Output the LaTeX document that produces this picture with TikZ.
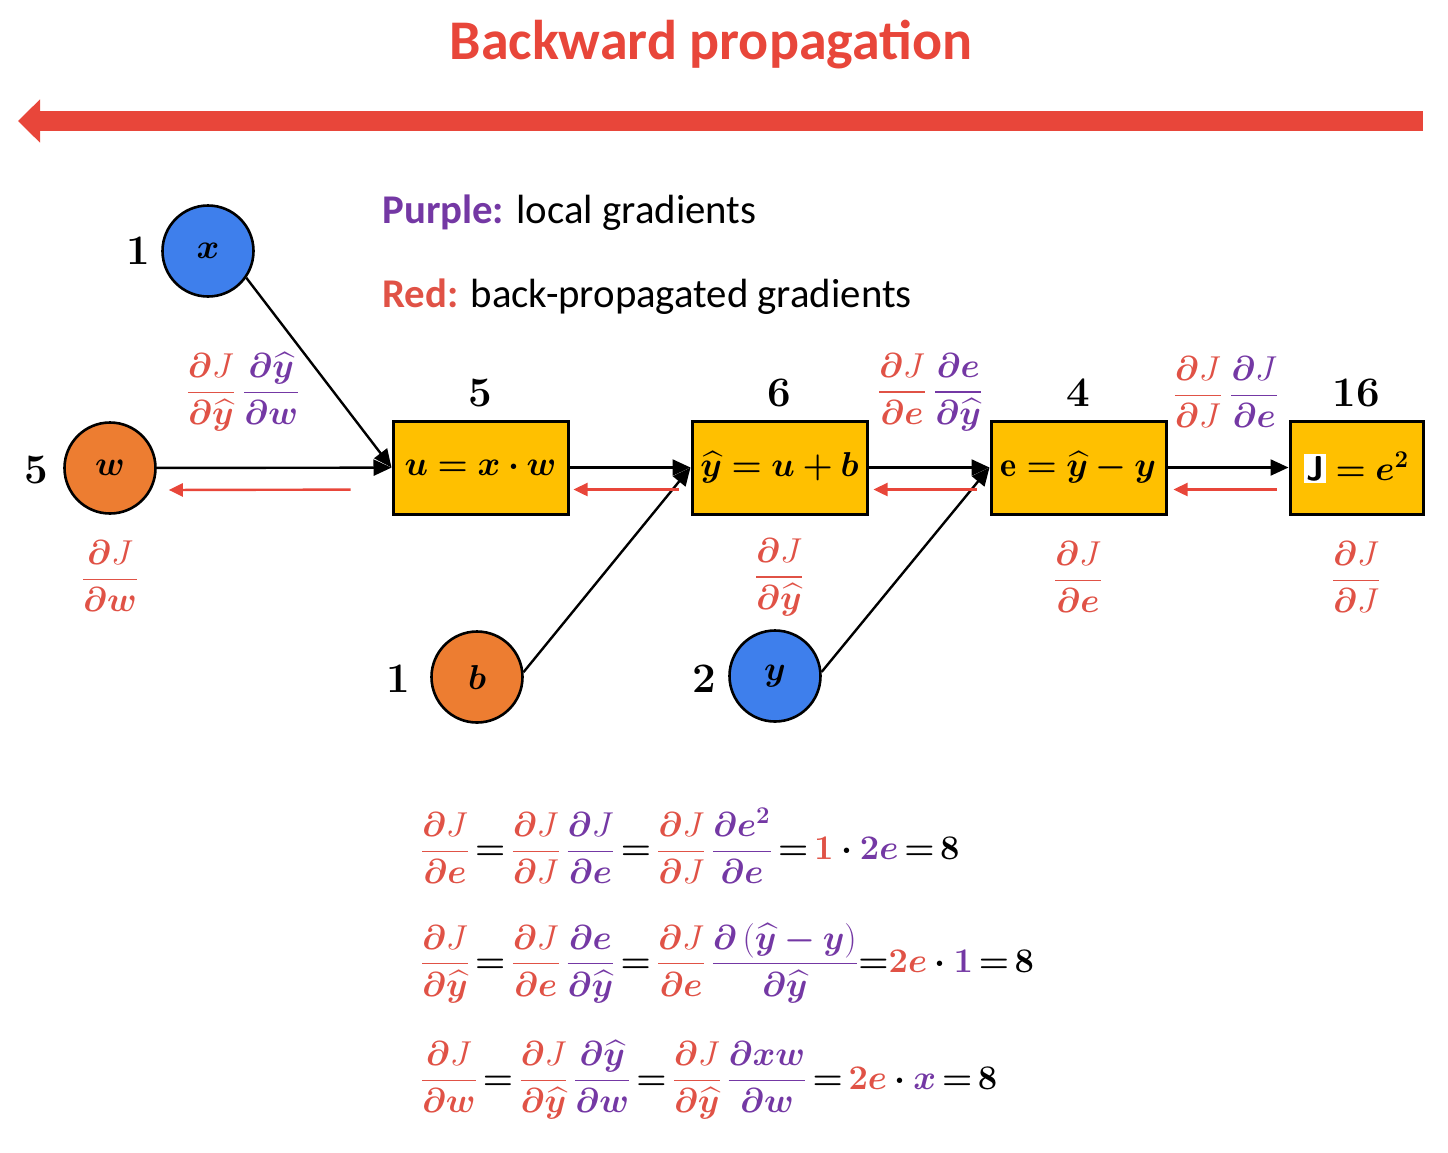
\documentclass[tikz,border=0pt]{standalone}
\usepackage{amsmath}
\usepackage{bm}
\usepackage{fontspec}
\newfontfamily\carlito{Carlito}
\usetikzlibrary{arrows.meta}
\definecolor{gred}{RGB}{224,82,70}
\definecolor{gpur}{RGB}{116,56,164}
\definecolor{arrred}{RGB}{232,70,58}
\definecolor{nblue}{RGB}{62,127,236}
\definecolor{norange}{RGB}{237,125,49}
\definecolor{byellow}{RGB}{255,192,0}
\newcommand{\pd}{\bm{\partial}}
\newcommand{\yh}{\widehat{\bm{y}}}
\newcommand{\rf}[2]{\textcolor{gred}{\dfrac{#1}{#2}}}
\newcommand{\pf}[2]{\textcolor{gpur}{\dfrac{#1}{#2}}}
\newcommand{\fgap}{\mkern3mu}
\newcommand{\beq}{\mathrel{\bm{=}}}
\newcommand{\tightmath}{\thickmuskip=3mu\nulldelimiterspace=0.8pt}
\setlength{\fboxsep}{1pt}
\tikzset{
  circ/.style={circle, draw=black, line width=1.3pt, minimum size=45.5pt, inner sep=0pt, font=\fontsize{17.28}{20}\selectfont},
  opbox/.style={draw=black, line width=1.5pt, fill=byellow, minimum width=87.5pt, minimum height=46.5pt, inner sep=0pt, font=\fontsize{17.28}{21}\selectfont},
  num/.style={inner sep=0pt, font=\fontsize{21}{24}\selectfont\bfseries},
  grad/.style={inner sep=0pt, font=\fontsize{17.28}{21}\selectfont},
  fwd/.style={line width=1.2pt, -{Triangle[length=9pt,width=8pt]}},
  bwd/.style={line width=1.2pt, arrred, -{Triangle[length=7pt,width=6.5pt]}},
  eqn/.style={inner sep=0pt, anchor=west, font=\fontsize{17.28}{21}\selectfont},
  legend/.style={inner sep=0pt, anchor=west, font=\carlito\fontsize{20.4}{24}\selectfont}
}
\begin{document}
\begin{tikzpicture}[x=0.5pt,y=-0.5pt]
\useasboundingbox (0,0) rectangle (1448,1153);
% title and big arrow
\node[inner sep=0pt, font=\carlito\bfseries\fontsize{28}{32}\selectfont, text=arrred] (title) at (711,45) {Backward propagation};
\coordinate (bigR) at (1423,121);
\coordinate (bigL) at (18,121);
\draw[line width=10pt, arrred, -{Triangle[length=11pt,width=21pt]}] (bigR) -- (bigL);
% legend
\node[legend] (leg1) at (382,213) {\textcolor{gpur}{\bfseries Purple:} local gradients};
\node[legend] (leg2) at (382,297) {\textcolor{gred}{\bfseries Red:} back-propagated gradients};
% input nodes
\node[circ, fill=nblue] (x) at (208,251) {$\bm{x}$};
\node[circ, fill=norange] (w) at (110,468) {$\bm{w}$};
\node[circ, fill=norange] (b) at (477,677) {$\bm{b}$};
\node[circ, fill=nblue] (y) at (775,676) {$\bm{y}$};
\node[num] (vx) at (138,251) {1};
\node[num] (vw) at (36,470) {5};
\node[num] (vb) at (398,679) {1};
\node[num] (vy) at (704,679) {2};
% operation boxes
\node[opbox] (u) at (480.5,467.5) {$\bm{u} \beq \bm{x}\bm{\cdot}\bm{w}$};
\node[opbox] (yhat) at (779.5,467.5) {$\yh \beq \bm{u}\bm{+}\bm{b}$};
\node[opbox] (e) at (1078.5,467.5) {$\mathbf{e} \beq \yh\bm{-}\bm{y}$};
\node[opbox, minimum width=66.5pt] (J) at (1356.5,467.5) {$\text{\colorbox{white}{\sffamily\bfseries J}} \beq \bm{e}^{\bm{2}}$};
\node[num] (vu) at (480,393) {5};
\node[num] (vyh) at (779,393) {6};
\node[num] (ve) at (1078,393) {4};
\node[num] (vJ) at (1356,393) {16};
% forward connectors
\draw[fwd] (w) -- (u);
\draw[fwd] (x.-35) -- (u.west);
\draw[fwd] (u) -- (yhat);
\draw[fwd] (b.6) -- (yhat.west);
\draw[fwd] (yhat) -- (e);
\draw[fwd] (y.5) -- (e.west);
\draw[fwd] (e) -- (J);
% backward connectors
\draw[bwd, shorten <=20.5pt, shorten >=6pt] ([yshift=-11pt]u.west) -- ([yshift=-11pt]w.east);
\draw[bwd, shorten <=6pt, shorten >=2pt] ([yshift=-11pt]yhat.west) -- ([yshift=-11pt]u.east);
\draw[bwd, shorten <=6.5pt, shorten >=2.5pt] ([yshift=-11pt]e.west) -- ([yshift=-11pt]yhat.east);
\draw[bwd, shorten <=6pt, shorten >=3pt] ([yshift=-11pt]J.west) -- ([yshift=-11pt]e.east);
% gradient labels
\node[grad] (gwu) at (243,392) {$\rf{\pd J}{\pd\yh}\fgap\pf{\pd\yh}{\pd\bm{w}}$};
\node[grad] (gw) at (110,576) {$\rf{\pd J}{\pd\bm{w}}$};
\node[grad] (gyh) at (779,577) {$\rf{\pd J}{\pd\yh}$};
\node[grad] (gyhe) at (930,392) {$\rf{\pd J}{\pd\bm{e}}\fgap\pf{\pd\bm{e}}{\pd\yh}$};
\node[grad] (ge) at (1078,577) {$\rf{\pd J}{\pd\bm{e}}$};
\node[grad] (geJ) at (1226,392) {$\rf{\pd J}{\pd J}\fgap\pf{\pd J}{\pd\bm{e}}$};
\node[grad] (gJ) at (1356,577) {$\rf{\pd J}{\pd J}$};
% equations
\node[eqn] (eq1) at (420,846) {$\tightmath\rf{\pd J}{\pd\bm{e}} \beq \rf{\pd J}{\pd J}\fgap\pf{\pd J}{\pd\bm{e}} \beq \rf{\pd J}{\pd J}\fgap\pf{\pd\bm{e}^{\bm 2}}{\pd\bm{e}} \beq \textcolor{gred}{\bm{1}}\bm{\cdot}\textcolor{gpur}{\bm{2e}} \beq \bm{8}$};
\node[eqn] (eq2) at (420,963) {$\tightmath\rf{\pd J}{\pd\yh} \beq \rf{\pd J}{\pd\bm{e}}\fgap\pf{\pd\bm{e}}{\pd\yh} \beq \rf{\pd J}{\pd\bm{e}}\fgap\pf{\pd\,(\yh\bm{-}\bm{y})}{\pd\yh}\mathord{\bm{=}}\textcolor{gred}{\bm{2e}}\bm{\cdot}\textcolor{gpur}{\bm{1}} \beq \bm{8}$};
\node[eqn] (eq3) at (420,1080) {$\tightmath\rf{\pd J}{\pd\bm{w}} \beq \rf{\pd J}{\pd\yh}\fgap\pf{\pd\yh}{\pd\bm{w}} \beq \rf{\pd J}{\pd\yh}\fgap\pf{\pd\bm{xw}}{\pd\bm{w}} \beq \textcolor{gred}{\bm{2e}}\bm{\cdot}\textcolor{gpur}{\bm{x}} \beq \bm{8}$};
\end{tikzpicture}
\end{document}
